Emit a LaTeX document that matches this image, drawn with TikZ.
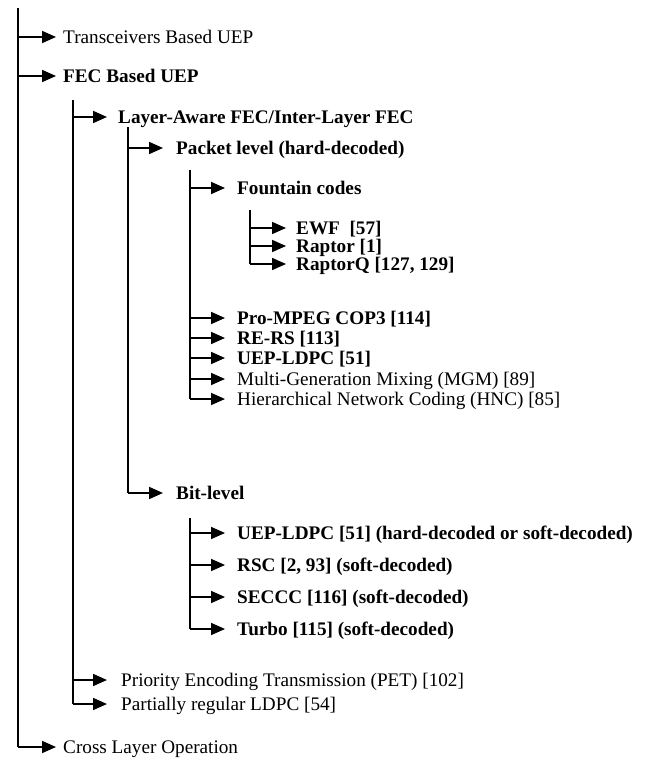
\documentclass[tikz,border=0pt]{standalone}
\usepackage{fontspec}
\setmainfont{Liberation Serif}
\usetikzlibrary{arrows.meta}
\begin{document}
\begin{tikzpicture}[x=1pt,y=-1pt,
  lbl/.style={anchor=west,inner sep=0pt,text height=12.7pt,text depth=0pt,font=\fontsize{19.2}{22}\selectfont},
  blbl/.style={lbl,font=\fontsize{19.2}{22}\selectfont\bfseries},
  trunk/.style={line width=1.7pt},
  arr/.style={line width=1.7pt,-{Triangle[length=14pt,width=12pt]}}]
\useasboundingbox (0,0) rectangle (657,767);
% vertical line tops
\coordinate (t0) at (18,8);
\coordinate (t1) at (73,100);
\coordinate (t2) at (128,127);
\coordinate (t3) at (190,170);
\coordinate (t4) at (250,210);
\coordinate (t5) at (190,518);
% labels
\node[lbl]  (trans)   at (63,37)  {Transceivers Based UEP};
\node[blbl] (fec)     at (63,76)  {FEC Based UEP};
\node[blbl] (layer)   at (118,117) {Layer-Aware FEC/Inter-Layer FEC};
\node[blbl] (packet)  at (176,148) {Packet level (hard-decoded)};
\node[blbl] (fountain) at (237,188) {Fountain codes};
\node[blbl] (ewf)     at (296,228) {EWF\ \ [57]};
\node[blbl] (raptor)  at (296,246) {Raptor [1]};
\node[blbl] (raptorq) at (296,264) {RaptorQ [127, 129]};
\node[blbl] (pro)     at (237,318) {Pro-MPEG COP3 [114]};
\node[blbl] (rers)    at (237,338) {RE-RS [113]};
\node[blbl] (uepa)    at (237,358) {UEP-LDPC [51]};
\node[lbl]  (mgm)     at (237,379) {Multi-Generation Mixing (MGM) [89]};
\node[lbl]  (hnc)     at (237,399) {Hierarchical Network Coding (HNC) [85]};
\node[blbl] (bit)     at (176,493) {Bit-level};
\node[blbl] (uepb)    at (237,533) {UEP-LDPC [51] (hard-decoded or soft-decoded)};
\node[blbl] (rsc)     at (237,565) {RSC [2, 93] (soft-decoded)};
\node[blbl] (seccc)   at (237,597) {SECCC [116] (soft-decoded)};
\node[blbl] (turbo)   at (237,629) {Turbo [115] (soft-decoded)};
\node[lbl]  (pet)     at (121,680) {Priority Encoding Transmission (PET) [102]};
\node[lbl]  (prl)     at (121,704) {Partially regular LDPC [54]};
\node[lbl]  (cross)   at (63,747) {Cross Layer Operation};
% trunks
\draw[trunk] (t0) -- (t0 |- cross.west);
\draw[trunk] (t1) -- (t1 |- prl.west);
\draw[trunk] (t2) -- (t2 |- bit.west);
\draw[trunk] (t3) -- (t3 |- hnc.west);
\draw[trunk] (t4) -- (t4 |- raptorq.west);
\draw[trunk] (t5) -- (t5 |- turbo.west);
% branches
\foreach \n in {trans,fec,cross} \draw[arr] (t0 |- \n.west) -- ([xshift=-7pt]\n.west);
\draw[arr] (t1 |- layer.west) -- ([xshift=-11pt]layer.west);
\foreach \n in {pet,prl} \draw[arr] (t1 |- \n.west) -- ([xshift=-14pt]\n.west);
\foreach \n in {packet,bit} \draw[arr] (t2 |- \n.west) -- ([xshift=-13pt]\n.west);
\foreach \n in {fountain,pro,rers,uepa,mgm,hnc} \draw[arr] (t3 |- \n.west) -- ([xshift=-12pt]\n.west);
\foreach \n in {ewf,raptor,raptorq} \draw[arr] (t4 |- \n.west) -- ([xshift=-10pt]\n.west);
\foreach \n in {uepb,rsc,seccc,turbo} \draw[arr] (t5 |- \n.west) -- ([xshift=-12pt]\n.west);
\end{tikzpicture}
\end{document}
